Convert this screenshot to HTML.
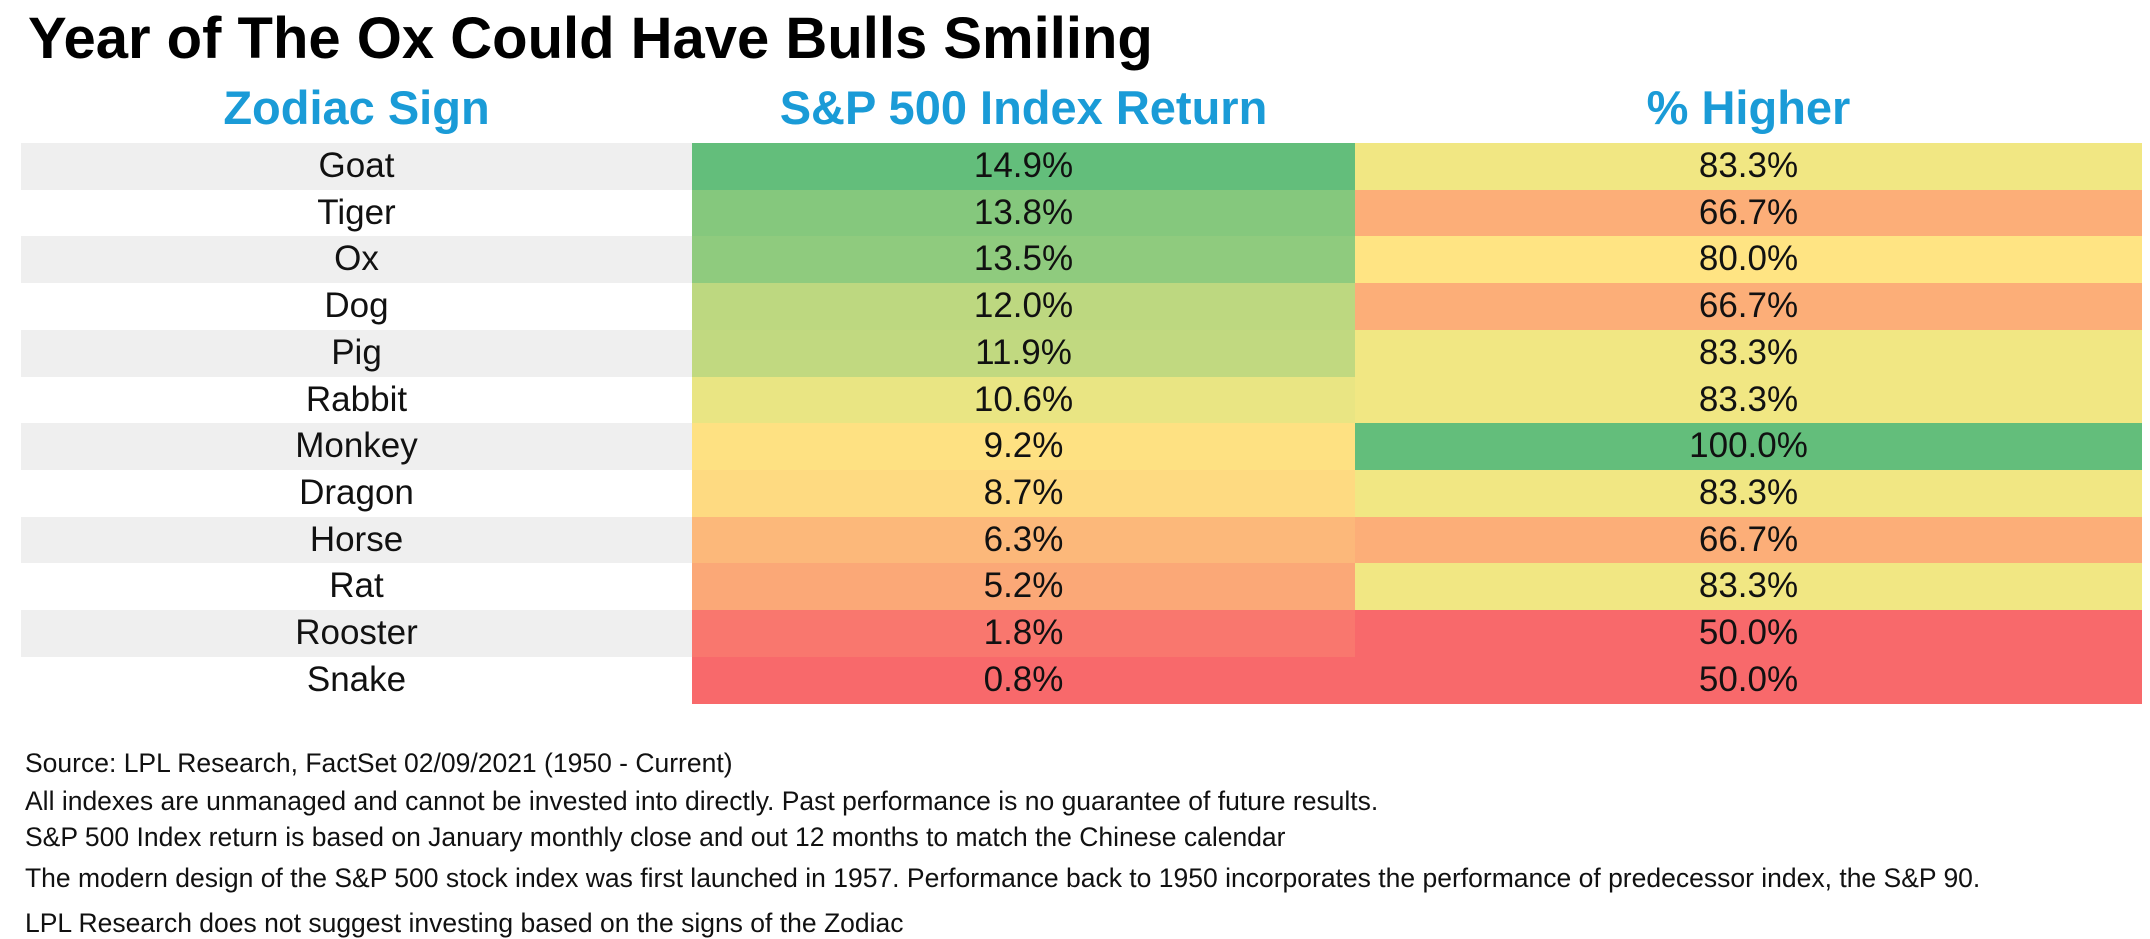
<!DOCTYPE html>
<html><head><meta charset="utf-8"><style>
body{margin:0;width:2150px;height:938px;background:#fff;font-family:"Liberation Sans",Arial,sans-serif;overflow:hidden;position:relative}
#title{position:absolute;left:28px;top:5px;font-size:58px;font-weight:bold;color:#000;letter-spacing:0px}
.hdr{position:absolute;top:80px;font-size:47px;font-weight:bold;color:#1a9bd7;text-align:center}
.cell{position:absolute;font-size:35px;color:#111;text-align:center;box-sizing:border-box}
.note{position:absolute;left:25px;font-size:26.5px;color:#111}
</style></head><body>
<div id="title">Year of The Ox Could Have Bulls Smiling</div>
<div class="hdr" style="left:21px;width:671px">Zodiac Sign</div>
<div class="hdr" style="left:692px;width:663px">S&amp;P 500 Index Return</div>
<div class="hdr" style="left:1355px;width:787px">% Higher</div>
<div id="table"></div>
<div class="note" style="top:748px">Source: LPL Research, FactSet 02/09/2021 (1950 - Current)</div>
<div class="note" style="top:786px">All indexes are unmanaged and cannot be invested into directly. Past performance is no guarantee of future results.</div>
<div class="note" style="top:822px">S&amp;P 500 Index return is based on January monthly close and out 12 months to match the Chinese calendar</div>
<div class="note" style="top:863px">The modern design of the S&amp;P 500 stock index was first launched in 1957. Performance back to 1950 incorporates the performance of predecessor index, the S&amp;P 90.</div>
<div class="note" style="top:908px">LPL Research does not suggest investing based on the signs of the Zodiac</div>
<script>
const signs=["Goat","Tiger","Ox","Dog","Pig","Rabbit","Monkey","Dragon","Horse","Rat","Rooster","Snake"];
const returns=[14.9,13.8,13.5,12.0,11.9,10.6,9.2,8.7,6.3,5.2,1.8,0.8];
const higher=[83.3,66.7,80.0,66.7,83.3,83.3,100.0,83.3,66.7,83.3,50.0,50.0];

const RED=[248,105,107],YEL=[255,235,132],GRN=[99,190,123];
function median(a){const s=[...a].sort((x,y)=>x-y);const n=s.length;return n%2?s[(n-1)/2]:(s[n/2-1]+s[n/2])/2;}
function mix(a,b,t){return 'rgb('+a.map((v,i)=>Math.round(v+(b[i]-v)*t)).join(',')+')';}
function scale(arr){const mn=Math.min(...arr),mx=Math.max(...arr),md=median(arr);
  return v=>v<=md?mix(RED,YEL,md===mn?1:(v-mn)/(md-mn)):mix(YEL,GRN,mx===md?0:(v-md)/(mx-md));}
const c2=scale(returns),c3=scale(higher);
const top0=143,rowH=46.7,x0=21,x1=692,x2=1355,x3=2142;
const tbl=document.getElementById('table');
function cell(x,w,y,bg,txt,name){const d=document.createElement('div');d.className='cell';
  d.style.cssText=`left:${x}px;width:${w}px;top:${y}px;height:${rowH+0.5}px;line-height:${rowH}px;background:${bg}`;
  d.textContent=txt;
  
  
  tbl.appendChild(d);}
signs.forEach((s,i)=>{const y=top0+i*rowH;
  cell(x0,x1-x0,y,i%2===0?'#efefef':'#fff',s,'sign-'+s.toLowerCase());
  cell(x1,x2-x1,y,c2(returns[i]),returns[i].toFixed(1)+'%','return-'+s.toLowerCase());
  cell(x2,x3-x2,y,c3(higher[i]),higher[i].toFixed(1)+'%','higher-'+s.toLowerCase());
});
</script>
</body></html>
